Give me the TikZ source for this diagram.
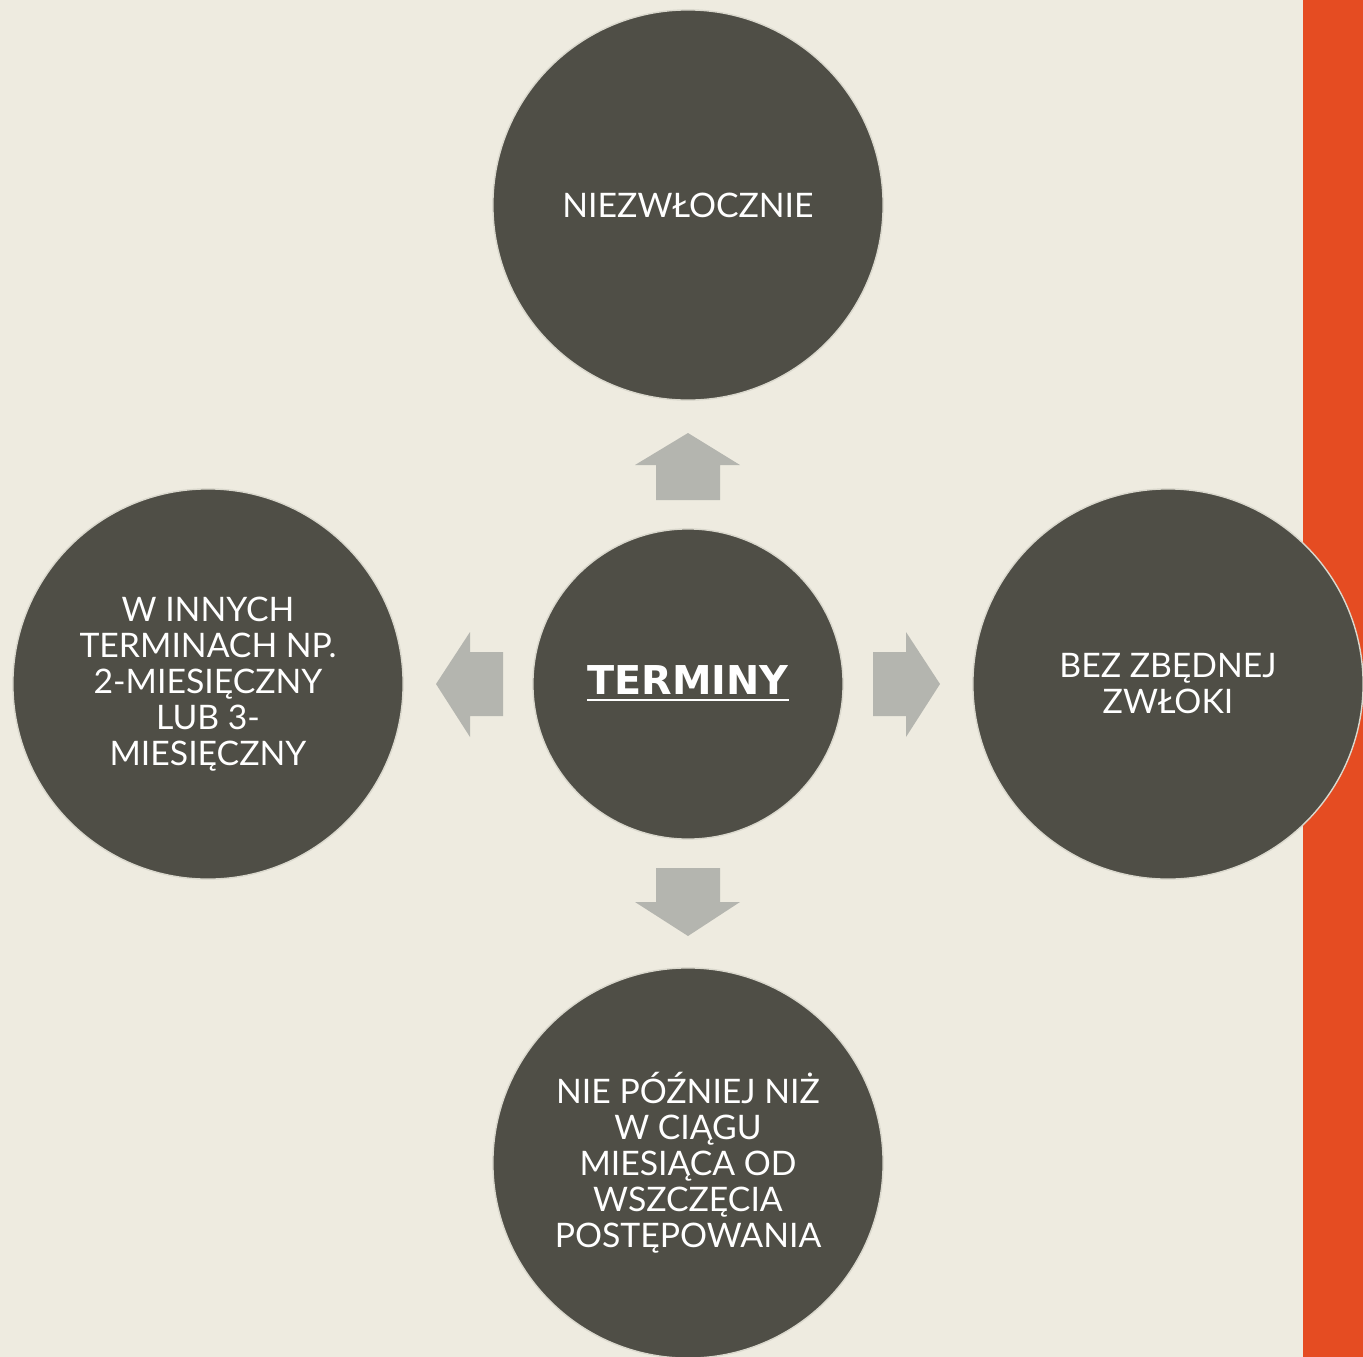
\documentclass[tikz,border=0pt]{standalone}
\usepackage{fontspec}
\setmainfont{Lato}
\newfontfamily\boldfam{DejaVu Sans}
\definecolor{bgc}{HTML}{EEEBE0}
\definecolor{circc}{HTML}{4F4E46}
\definecolor{rimc}{HTML}{DAD8CD}
\definecolor{arrc}{HTML}{B4B5AF}
\definecolor{barc}{HTML}{E54C22}
\tikzset{
  bubble/.style={circle, fill=circc, draw=rimc, line width=0.4pt, inner sep=0pt,
    minimum size=3.9cm, text=white, align=center,
    font=\fontsize{9.6}{10.25}\selectfont},
  hub/.style={bubble, minimum size=3.1cm},
  blockarrow/.style={fill=arrc, draw=none}
}
\begin{document}
\begin{tikzpicture}[x=0.01cm, y=-0.01cm]
\useasboundingbox (0,0) rectangle (1363,1357);
\fill[bgc] (0,0) rectangle (1363,1357);
\fill[barc] (1303,0) rectangle (1363,1357);

\node[bubble] (top) at (688,205) {NIEZWŁOCZNIE};
\node[bubble] (right) at (1168,684) {BEZ ZBĘDNEJ\\ZWŁOKI};
\node[bubble] (left) at (208,684) {W INNYCH\\TERMINACH NP.\\2-MIESIĘCZNY\\LUB 3-\\MIESIĘCZNY};
\node[bubble] (bottom) at (688,1163) {NIE PÓŹNIEJ NIŻ\\W CIĄGU\\MIESIĄCA OD\\WSZCZĘCIA\\POSTĘPOWANIA};
\node[hub] (hubn) at (688,684) {\boldfam\fontsize{11.3}{12}\selectfont\bfseries\underline{TERMINY}};

% block arrows
\fill[blockarrow] (688,433) -- (740,465) -- (720,465) -- (720,500) -- (656,500) -- (656,465) -- (635,465) -- cycle;
\fill[blockarrow] (688,936) -- (740,902) -- (720,902) -- (720,868) -- (656,868) -- (656,902) -- (635,902) -- cycle;
\fill[blockarrow] (436,684) -- (470,632) -- (470,652) -- (503,652) -- (503,716) -- (470,716) -- (470,737) -- cycle;
\fill[blockarrow] (940,684) -- (906,632) -- (906,652) -- (873,652) -- (873,716) -- (906,716) -- (906,737) -- cycle;
\end{tikzpicture}
\end{document}
